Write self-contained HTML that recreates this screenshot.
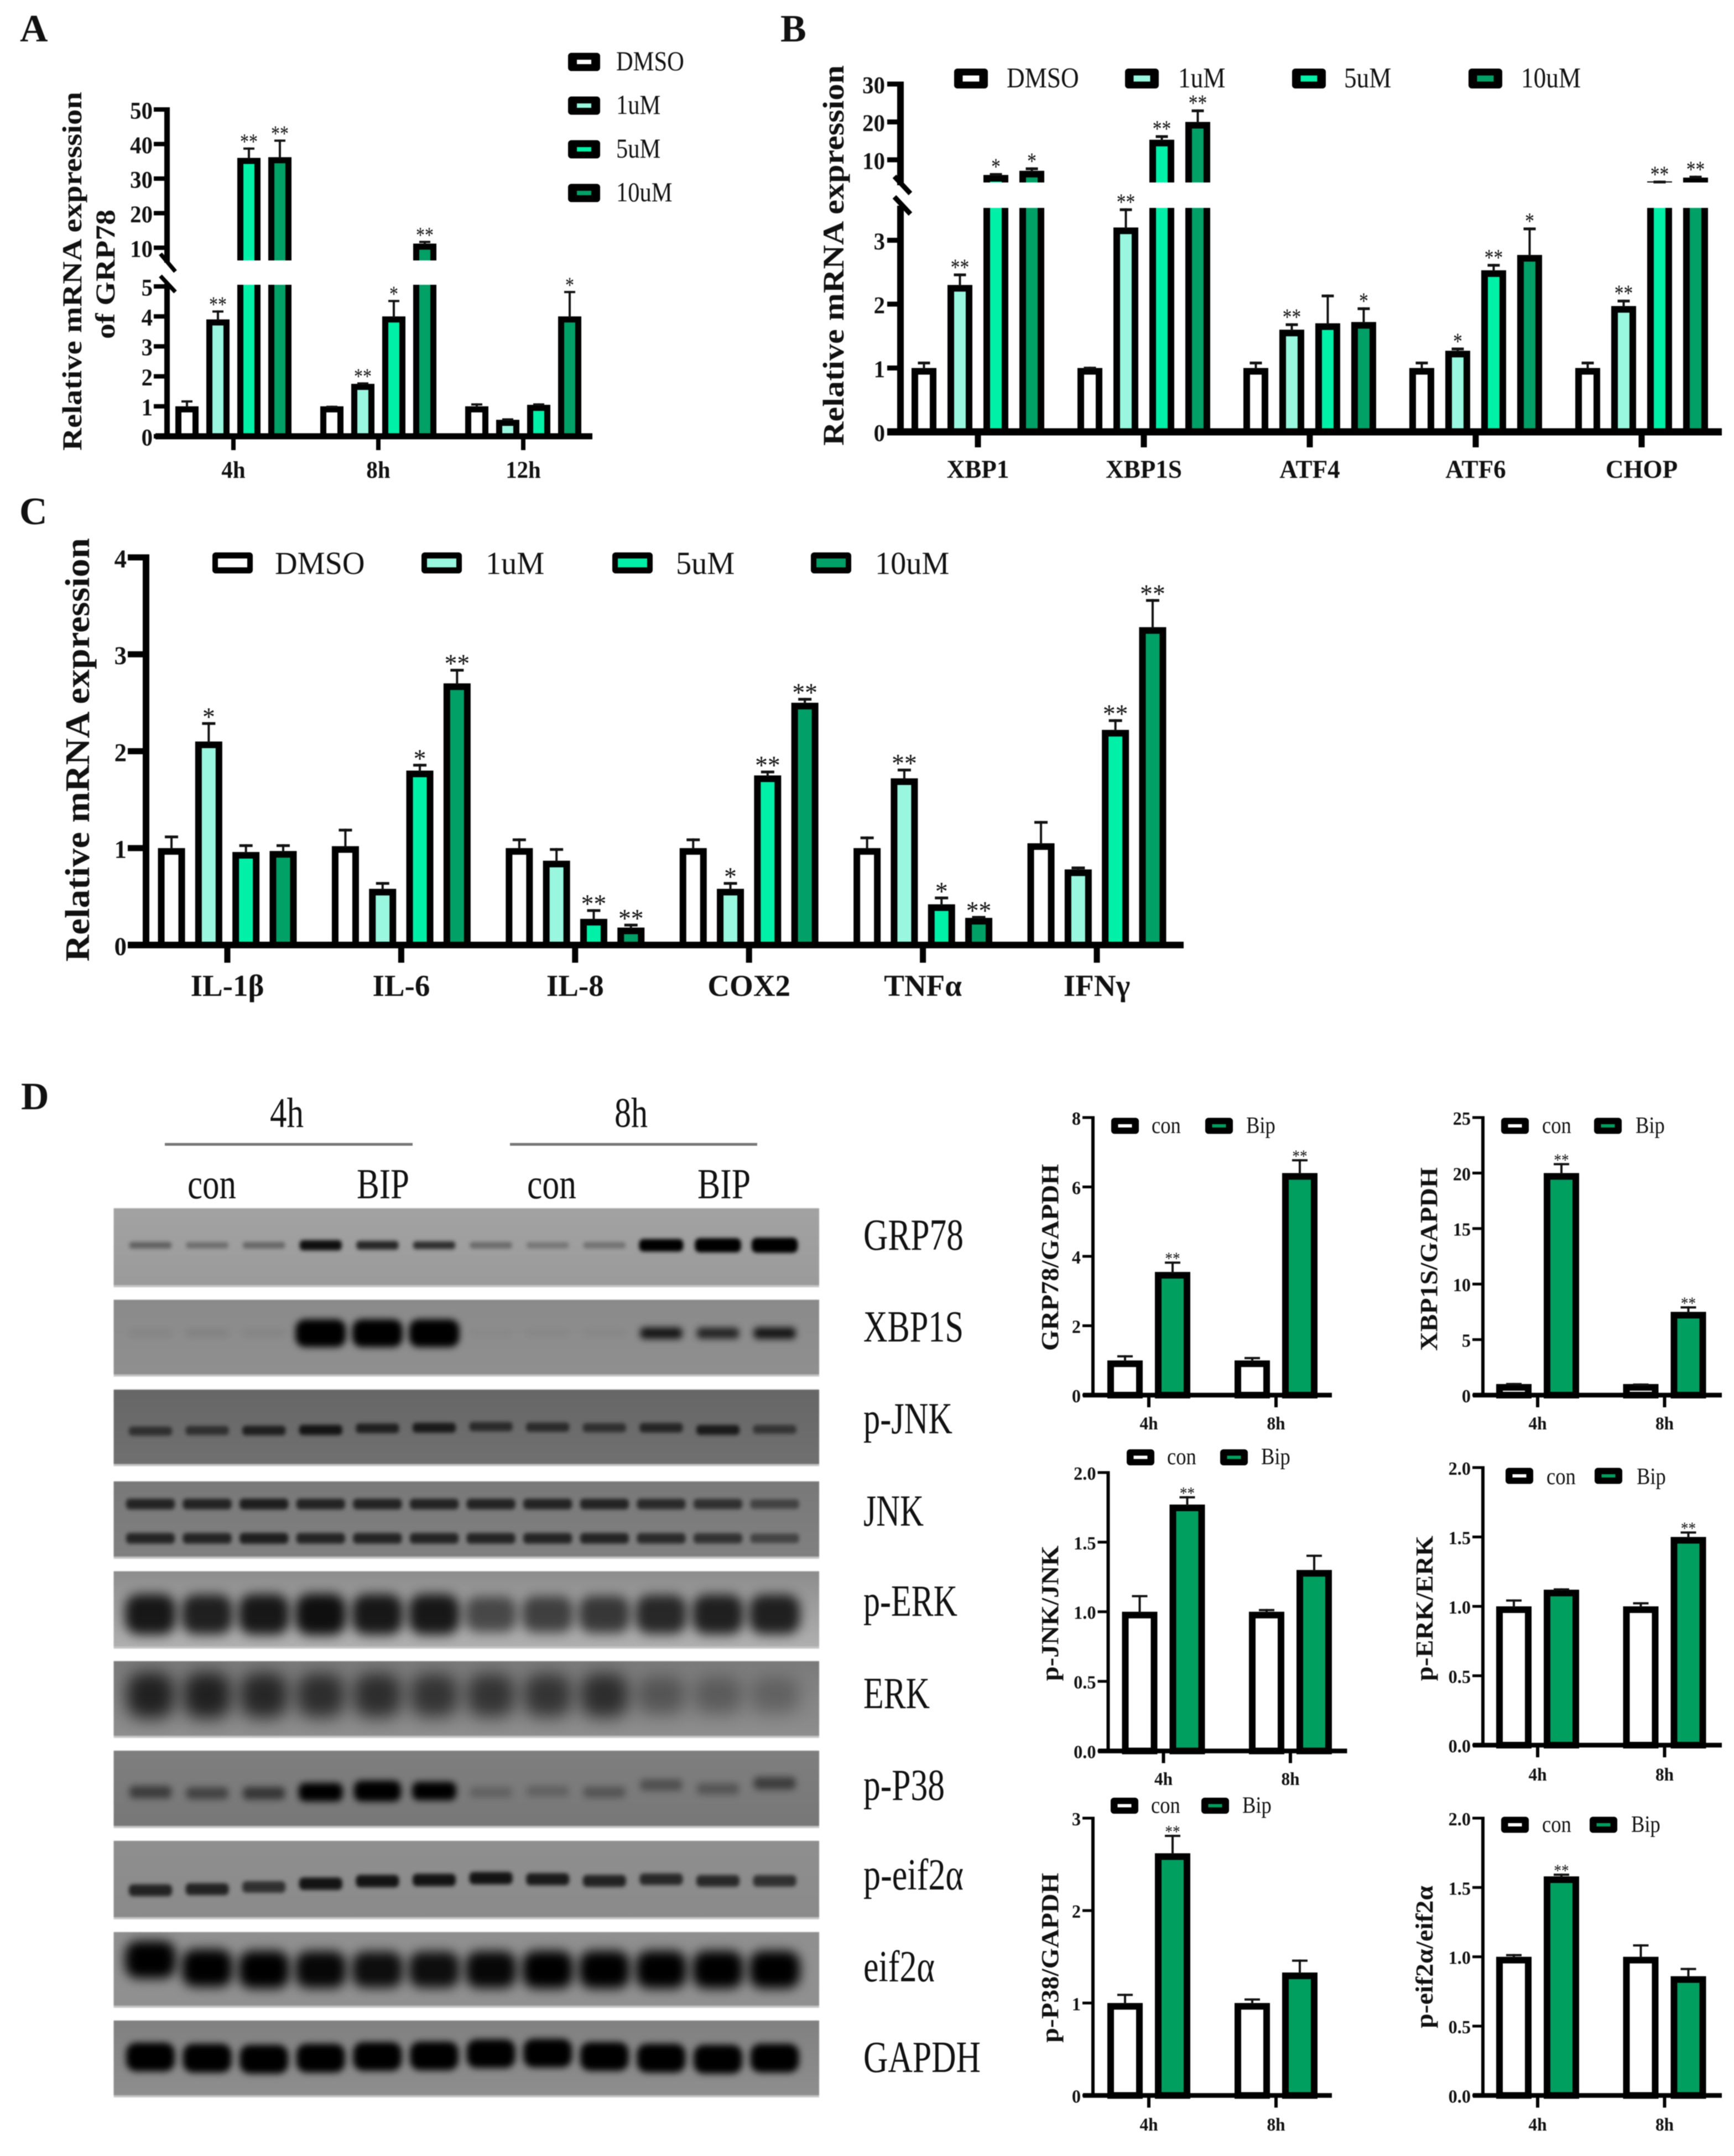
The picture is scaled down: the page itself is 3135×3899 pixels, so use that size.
<!DOCTYPE html>
<html lang="en">
<head>
<meta charset="utf-8">
<title>Relative mRNA expression and western blot figure</title>
<style>
html,body{margin:0;padding:0;background:#fff;}
svg{display:block;filter:blur(0.7px);}
text{font-family:"Liberation Serif","Times New Roman",serif;fill:#111;}
.bold{font-weight:bold;}
</style>
</head>
<body>
<svg id="figure" xmlns="http://www.w3.org/2000/svg" width="3135" height="3899" viewBox="0 0 3135 3899">
  <rect x="0" y="0" width="3135" height="3899" fill="#fff"/>
  <defs id="defs">
    <filter id="blur-xs" x="-50%" y="-150%" width="200%" height="400%"><feGaussianBlur stdDeviation="3.5"/></filter>
    <filter id="blur-s" x="-50%" y="-150%" width="200%" height="400%"><feGaussianBlur stdDeviation="6"/></filter>
    <filter id="blur-m" x="-50%" y="-100%" width="200%" height="300%"><feGaussianBlur stdDeviation="10"/></filter>
    <filter id="blur-l" x="-60%" y="-80%" width="220%" height="260%"><feGaussianBlur stdDeviation="15"/></filter>
  </defs>

  <text class="bold" x="36" y="75" font-size="70">A</text>
  <text class="bold" x="1411" y="75" font-size="70">B</text>
  <text class="bold" x="35" y="948" font-size="70">C</text>
  <text class="bold" x="38" y="2006" font-size="70">D</text>

  <g>
    <text x="488" y="2038" font-size="76" textLength="61" lengthAdjust="spacingAndGlyphs">4h</text>
    <text x="1111" y="2038" font-size="76" textLength="60" lengthAdjust="spacingAndGlyphs">8h</text>
    <rect x="298" y="2067" width="448" height="5" fill="#777"/>
    <rect x="922" y="2067" width="447" height="5" fill="#777"/>
    <text x="339" y="2167" font-size="77" textLength="88" lengthAdjust="spacingAndGlyphs">con</text>
    <text x="645" y="2167" font-size="77" textLength="95" lengthAdjust="spacingAndGlyphs">BIP</text>
    <text x="953" y="2167" font-size="77" textLength="89" lengthAdjust="spacingAndGlyphs">con</text>
    <text x="1261" y="2167" font-size="77" textLength="96" lengthAdjust="spacingAndGlyphs">BIP</text>
  </g>

  <g>
    <text x="1561" y="2260" font-size="80" textLength="181" lengthAdjust="spacingAndGlyphs">GRP78</text>
    <text x="1561" y="2426" font-size="80" textLength="181" lengthAdjust="spacingAndGlyphs">XBP1S</text>
    <text x="1561" y="2592" font-size="80" textLength="161" lengthAdjust="spacingAndGlyphs">p-JNK</text>
    <text x="1561" y="2759" font-size="80" textLength="109" lengthAdjust="spacingAndGlyphs">JNK</text>
    <text x="1561" y="2922" font-size="80" textLength="170" lengthAdjust="spacingAndGlyphs">p-ERK</text>
    <text x="1561" y="3089" font-size="80" textLength="120" lengthAdjust="spacingAndGlyphs">ERK</text>
    <text x="1561" y="3255" font-size="80" textLength="147" lengthAdjust="spacingAndGlyphs">p-P38</text>
    <text x="1561" y="3417" font-size="80" textLength="181" lengthAdjust="spacingAndGlyphs">p-eif2α</text>
    <text x="1561" y="3583" font-size="80" textLength="129" lengthAdjust="spacingAndGlyphs">eif2α</text>
    <text x="1561" y="3747" font-size="80" textLength="212" lengthAdjust="spacingAndGlyphs">GAPDH</text>
  </g>

  <g id="blots"></g>
  <g id="charts"></g>
</svg>

<script>
/* ---------- shared labels ---------- */
const doseLabels = ['DMSO', '1uM', '5uM', '10uM'];
const doseColors = ['#ffffff', '#9af7df', '#00f0a8', '#00a066'];
const pairLabels = ['con', 'Bip'];
const pairColors = ['#ffffff', '#009f5f'];
const pairCategories = ['4h', '8h'];

/* ---------- panel A ---------- */
const aCategories = ['4h', '8h', '12h'];
const aYTicks = ['0', '1', '2', '3', '4', '5', '10', '20', '30', '40', '50'];
const aDmso = [1, 1, 1];
const a1uM = [3.9, 1.75, 0.55];
const a5uM = [36, 4, 1.05];
const a10uM = [36.2, 11.2, 4];
const aErrDmso = [1.2, 1.02, 1.1];
const aErr1uM = [4.2, 1.8, 0.6];
const aErr5uM = [39, 4.55, 1.1];
const aErr10uM = [41.3, 12, 4.85];
const aStars1uM = ['**', '**', ''];
const aStars5uM = ['**', '*', ''];
const aStars10uM = ['**', '**', '*'];

/* ---------- panel B ---------- */
const bCategories = ['XBP1', 'XBP1S', 'ATF4', 'ATF6', 'CHOP'];
const bYTicks = ['0', '1', '2', '3', '10', '20', '30'];
const bDmso = [1, 1, 1, 1, 1];
const b1uM = [2.3, 3.2, 1.6, 1.27, 1.97];
const b5uM = [6, 15.3, 1.7, 2.53, 4.3];
const b10uM = [7.1, 20, 1.72, 2.77, 5.3];
const bErrDmso = [1.1, 1.02, 1.1, 1.1, 1.1];
const bErr1uM = [2.48, 3.5, 1.7, 1.32, 2.07];
const bErr5uM = [6.5, 16.5, 2.15, 2.63, 4.5];
const bErr10uM = [8, 23.3, 1.95, 3.2, 5.8];
const bStars1uM = ['**', '**', '**', '*', '**'];
const bStars5uM = ['*', '**', '', '**', '**'];
const bStars10uM = ['*', '**', '*', '*', '**'];

/* ---------- panel C ---------- */
const cCategories = ['IL-1β', 'IL-6', 'IL-8', 'COX2', 'TNFα', 'IFNγ'];
const cYTicks = ['0', '1', '2', '3', '4'];
const cDmso = [1, 1.02, 1, 1, 1, 1.05];
const c1uM = [2.1, 0.58, 0.87, 0.58, 1.72, 0.78];
const c5uM = [0.96, 1.8, 0.27, 1.75, 0.42, 2.22];
const c10uM = [0.97, 2.7, 0.18, 2.5, 0.28, 3.28];
const cErrDmso = [1.13, 1.2, 1.1, 1.1, 1.12, 1.28];
const cErr1uM = [2.3, 0.65, 1, 0.65, 1.82, 0.81];
const cErr5uM = [1.04, 1.87, 0.37, 1.8, 0.5, 2.33];
const cErr10uM = [1.04, 2.85, 0.22, 2.55, 0.3, 3.57];
const cStars1uM = ['*', '', '', '*', '**', ''];
const cStars5uM = ['', '*', '**', '**', '*', '**'];
const cStars10uM = ['', '**', '**', '**', '**', '**'];

/* ---------- panel D quantification ---------- */
const d1YTicks = ['0', '2', '4', '6', '8'];
const d1Con = [1, 1];
const d1Bip = [3.55, 6.4];
const d1ConErr = [1.15, 1.1];
const d1BipErr = [3.85, 6.8];
const d1Stars = ['**', '**'];

const d2YTicks = ['0', '5', '10', '15', '20', '25'];
const d2Con = [1, 1];
const d2Bip = [20, 7.5];
const d2ConErr = [1.1, 1.05];
const d2BipErr = [20.9, 8];
const d2Stars = ['**', '**'];

const d3YTicks = ['0.0', '0.5', '1.0', '1.5', '2.0'];
const d3Con = [1, 1];
const d3Bip = [1.77, 1.3];
const d3ConErr = [1.12, 1.02];
const d3BipErr = [1.83, 1.41];
const d3Stars = ['**', ''];

const d4YTicks = ['0.0', '0.5', '1.0', '1.5', '2.0'];
const d4Con = [1, 1];
const d4Bip = [1.12, 1.5];
const d4ConErr = [1.05, 1.03];
const d4BipErr = [1.13, 1.54];
const d4Stars = ['', '**'];

const d5YTicks = ['0', '1', '2', '3'];
const d5Con = [1, 1];
const d5Bip = [2.62, 1.33];
const d5ConErr = [1.1, 1.05];
const d5BipErr = [2.82, 1.47];
const d5Stars = ['**', ''];

const d6YTicks = ['0.0', '0.5', '1.0', '1.5', '2.0'];
const d6Con = [1, 1];
const d6Bip = [1.58, 0.86];
const d6ConErr = [1.02, 1.09];
const d6BipErr = [1.6, 0.92];
const d6Stars = ['**', ''];

/* ---------- blot band intensities (0..1), one per lane ---------- */
const blotGrp78 = [0.38, 0.3, 0.35, 0.9, 0.75, 0.7, 0.32, 0.25, 0.28, 1, 1, 1];
const blotXbp1s = [0.05, 0.07, 0.05, 1, 1, 1, 0.02, 0.03, 0.03, 0.85, 0.75, 0.85];
const blotPJnk = [0.55, 0.55, 0.7, 0.8, 0.7, 0.75, 0.6, 0.6, 0.55, 0.65, 0.75, 0.5];
const blotJnk = [0.7, 0.7, 0.75, 0.7, 0.7, 0.7, 0.7, 0.7, 0.7, 0.65, 0.6, 0.45];
const blotPErk = [0.85, 0.8, 0.85, 0.9, 0.85, 0.85, 0.55, 0.6, 0.65, 0.75, 0.8, 0.8];
const blotErk = [0.75, 0.75, 0.7, 0.65, 0.65, 0.6, 0.6, 0.6, 0.65, 0.35, 0.3, 0.25];
const blotPP38 = [0.5, 0.45, 0.55, 1, 1, 1, 0.2, 0.2, 0.3, 0.35, 0.3, 0.5];
const blotPEif = [0.75, 0.75, 0.65, 0.85, 0.85, 0.85, 0.85, 0.8, 0.75, 0.7, 0.7, 0.65];
const blotEif = [1, 1, 1, 0.95, 0.9, 0.9, 0.95, 1, 1, 1, 1, 1];
const blotGapdh = [1, 1, 1, 1, 1, 1, 1, 1, 1, 1, 1, 1];

/* ---------- helpers ---------- */
const NS = 'http://www.w3.org/2000/svg';
const chartsRoot = document.getElementById('charts');
const blotsRoot = document.getElementById('blots');
const defsRoot = document.getElementById('defs');

function mk(tag, attrs, parent) {
  const el = document.createElementNS(NS, tag);
  for (const k in attrs) el.setAttribute(k, attrs[k]);
  if (parent) parent.appendChild(el);
  return el;
}
function named(el, name) {
  
  
  return el;
}
function txt(parent, str, x, y, size, o) {
  o = o || {};
  const el = mk('text', {'font-size': size}, parent);
  let t = 'translate(' + x + ' ' + y + ')';
  if (o.rot) t += ' rotate(' + o.rot + ')';
  if (o.sx) t += ' scale(' + o.sx + ' 1)';
  el.setAttribute('transform', t);
  if (o.anchor) el.setAttribute('text-anchor', o.anchor);
  if (o.bold) el.setAttribute('class', 'bold');
  if (o.len) {
    el.setAttribute('textLength', o.len);
    el.setAttribute('lengthAdjust', 'spacingAndGlyphs');
  }
  el.textContent = str;
  return el;
}
function linearScale(v0, p0, v1, p1) {
  return function (v) { return p0 + (v - v0) * (p1 - p0) / (v1 - v0); };
}
function brokenScale(split, lower, upper) {
  return function (v) { return v <= split ? lower(v) : upper(v); };
}

/* ---------- bar chart ---------- */
function drawBarChart(c) {
  const g = named(mk('g', {}, chartsRoot), 'chart-' + c.id);
  const groupX = function (i) { return c.x0 + i * c.xStep; };
  const barX = function (i, j) { return groupX(i) + (j - (c.series.length - 1) / 2) * c.barStep; };
  const y = c.y;

  /* bars */
  c.series.forEach(function (vals, j) {
    vals.forEach(function (v, i) {
      const top = y(v) + c.sw / 2;
      const bar = mk('rect', {
        x: barX(i, j) - c.barW / 2 + c.sw / 2, y: top,
        width: c.barW - c.sw, height: Math.max(0, c.base - top),
        fill: c.colors[j], stroke: '#000', 'stroke-width': c.sw
      }, g);
      named(bar, 'bar-' + c.id + '-' + c.seriesNames[j] + '-' + c.categories[i]);
    });
  });

  /* axis break gap */
  if (c.brk) {
    const gap = mk('rect', {
      x: c.axisX + 14, y: c.brk.gapTop,
      width: c.baseRight - c.axisX - 14, height: c.brk.gapBottom - c.brk.gapTop, fill: '#fff'
    }, g);
    named(gap, 'axis-break-gap-' + c.id);
  }

  /* error bars and significance stars */
  c.series.forEach(function (vals, j) {
    vals.forEach(function (v, i) {
      const e = c.errors[j][i];
      const yTop = y(e);
      const cx = barX(i, j);
      if (e > v) {
        const stem = mk('rect', {x: cx - c.errStem / 2, y: yTop, width: c.errStem, height: y(v) - yTop + 2, fill: '#111'}, g);
        named(stem, 'error-stem-' + c.id);
      }
      const cap = mk('rect', {x: cx - c.errCap / 2, y: yTop, width: c.errCap, height: c.errThick, fill: '#111'}, g);
      named(cap, 'error-cap-' + c.id);
      const s = c.stars[j] ? c.stars[j][i] : '';
      if (s) {
        const st = txt(g, s, cx, yTop - c.starGap + 0.47 * c.starSize, c.starSize, {anchor: 'middle', sx: c.starSx});
        named(st, 'significance-' + c.id);
      }
    });
  });

  /* y axis */
  const axisTop = y(parseFloat(c.yTicks[c.yTicks.length - 1])) - c.tickW / 2;
  if (c.brk) {
    const a1 = mk('rect', {x: c.axisX - c.axisW / 2, y: axisTop, width: c.axisW, height: c.brk.axisEnd - axisTop, fill: '#000'}, g);
    named(a1, 'y-axis-upper-' + c.id);
    const a2 = mk('rect', {x: c.axisX - c.axisW / 2, y: c.brk.axisStart, width: c.axisW, height: c.base - c.brk.axisStart, fill: '#000'}, g);
    named(a2, 'y-axis-lower-' + c.id);
    c.brk.slashes.forEach(function (s) {
      const sl = mk('line', {x1: s[0], y1: s[1], x2: s[2], y2: s[3], stroke: '#000', 'stroke-width': c.axisW * 0.75}, g);
      named(sl, 'axis-break-mark-' + c.id);
    });
  } else {
    const a = mk('rect', {x: c.axisX - c.axisW / 2, y: axisTop, width: c.axisW, height: c.base - axisTop, fill: '#000'}, g);
    named(a, 'y-axis-' + c.id);
  }
  c.yTicks.forEach(function (t) {
    const py = y(parseFloat(t));
    const tk = mk('rect', {x: c.axisX - c.tickLen, y: py - c.tickW / 2, width: c.tickLen, height: c.tickW, fill: '#000'}, g);
    named(tk, 'y-tick-' + c.id);
    const lb = txt(g, t, c.yLabelRight, py + 0.38 * c.yLabelSize, c.yLabelSize, {anchor: 'end', bold: true, sx: c.yLabelSx});
    named(lb, 'y-tick-label-' + c.id);
  });

  /* x axis */
  const bl = mk('rect', {x: c.baseLeft, y: c.base - c.baseW / 2, width: c.baseRight - c.baseLeft, height: c.baseW, fill: '#000'}, g);
  named(bl, 'x-axis-' + c.id);
  c.categories.forEach(function (cat, i) {
    const tk = mk('rect', {x: groupX(i) - c.xTickW / 2, y: c.base, width: c.xTickW, height: c.xTickLen, fill: '#000'}, g);
    named(tk, 'x-tick-' + c.id);
    const lb = txt(g, cat, groupX(i), c.xLabelY, c.xLabelSize, {anchor: 'middle', bold: true, sx: c.xLabelSx});
    named(lb, 'x-tick-label-' + c.id);
  });

  /* y titles */
  c.titles.forEach(function (t) {
    const el = txt(g, t.text, t.x, (t.y1 + t.y2) / 2, t.size, {anchor: 'middle', bold: true, rot: -90, len: t.y2 - t.y1});
    named(el, 'y-axis-title-' + c.id);
  });

  /* legend */
  const L = c.legend;
  L.items.forEach(function (it, k) {
    const lg = named(mk('g', {}, g), 'legend-entry-' + c.id + '-' + c.seriesNames[k]);
    const outer = mk('rect', {x: it[0], y: it[1] - L.h / 2, width: L.w, height: L.h, rx: 6, fill: '#000'}, lg);
    named(outer, 'legend-swatch-frame');
    const inner = mk('rect', {x: it[0] + (L.w - L.iw) / 2, y: it[1] - L.ih / 2, width: L.iw, height: L.ih, fill: c.colors[k]}, lg);
    named(inner, 'legend-swatch-fill');
    const tx = txt(lg, c.seriesNames[k], it[2], it[3], L.size, {sx: L.sx});
    named(tx, 'legend-label');
  });
}

/* panel A */
drawBarChart({
  id: 'a', categories: aCategories, seriesNames: doseLabels, colors: doseColors,
  series: [aDmso, a1uM, a5uM, a10uM],
  errors: [aErrDmso, aErr1uM, aErr5uM, aErr10uM],
  stars: [null, aStars1uM, aStars5uM, aStars10uM],
  yTicks: aYTicks,
  y: brokenScale(5.5, linearScale(0, 789, 5, 518), linearScale(10, 448, 50, 198)),
  brk: {gapTop: 471, gapBottom: 515, axisEnd: 475, axisStart: 513,
    slashes: [[290, 459, 317, 491], [290, 499, 317, 528]]},
  x0: 422, xStep: 262, barStep: 56, barW: 42, sw: 11,
  axisX: 302, axisW: 10, tickLen: 24, tickW: 8,
  base: 789, baseLeft: 281, baseRight: 1071, baseW: 11, xTickW: 8, xTickLen: 25,
  errStem: 4, errCap: 20, errThick: 4, starSize: 40, starSx: 0.8, starGap: 16,
  yLabelRight: 276, yLabelSize: 43, yLabelSx: 0.95,
  xLabelY: 864, xLabelSize: 43, xLabelSx: 0.95,
  titles: [
    {text: 'Relative mRNA expression', x: 147, y1: 166, y2: 815, size: 50},
    {text: 'of GRP78', x: 207, y1: 379, y2: 613, size: 50}
  ],
  legend: {w: 58, h: 33, iw: 26, ih: 8, size: 50, sx: 0.85,
    items: [[1027, 112, 1114, 127], [1027, 191, 1114, 206], [1027, 270, 1114, 285], [1027, 349, 1114, 364]]}
});

/* panel B */
drawBarChart({
  id: 'b', categories: bCategories, seriesNames: doseLabels, colors: doseColors,
  series: [bDmso, b1uM, b5uM, b10uM],
  errors: [bErrDmso, bErr1uM, bErr5uM, bErr10uM],
  stars: [null, bStars1uM, bStars5uM, bStars10uM],
  yTicks: bYTicks,
  y: brokenScale(3.6, linearScale(0, 781, 3, 434.5), linearScale(10, 289, 30, 152)),
  brk: {gapTop: 330, gapBottom: 376, axisEnd: 335, axisStart: 372,
    slashes: [[1617, 319, 1646, 350], [1617, 356, 1646, 387]]},
  x0: 1768, xStep: 300, barStep: 65, barW: 45, sw: 12,
  axisX: 1628, axisW: 12, tickLen: 24, tickW: 9,
  base: 781, baseLeft: 1604, baseRight: 3113, baseW: 13, xTickW: 11, xTickLen: 28,
  errStem: 4, errCap: 22, errThick: 5, starSize: 42, starSx: 0.8, starGap: 17,
  yLabelRight: 1600, yLabelSize: 43, yLabelSx: 0.95,
  xLabelY: 864, xLabelSize: 47, xLabelSx: 0.96,
  titles: [{text: 'Relative mRNA expression', x: 1525, y1: 118, y2: 806, size: 54}],
  legend: {w: 61, h: 36, iw: 30, ih: 11, size: 52, sx: 0.87,
    items: [[1725, 142, 1820, 158], [2034, 142, 2130, 158], [2336, 142, 2430, 158], [2655, 142, 2750, 158]]}
});

/* panel C */
drawBarChart({
  id: 'c', categories: cCategories, seriesNames: doseLabels, colors: doseColors,
  series: [cDmso, c1uM, c5uM, c10uM],
  errors: [cErrDmso, cErr1uM, cErr5uM, cErr10uM],
  stars: [null, cStars1uM, cStars5uM, cStars10uM],
  yTicks: cYTicks,
  y: linearScale(0, 1709, 4, 1008),
  x0: 411, xStep: 314.4, barStep: 67.3, barW: 49, sw: 12,
  axisX: 264, axisW: 12, tickLen: 33, tickW: 11,
  base: 1709, baseLeft: 231, baseRight: 2140, baseW: 12, xTickW: 11, xTickLen: 32,
  errStem: 4, errCap: 24, errThick: 5, starSize: 48, starSx: 0.95, starGap: 16,
  yLabelRight: 229, yLabelSize: 47, yLabelSx: 0.95,
  xLabelY: 1801, xLabelSize: 55, xLabelSx: 1,
  titles: [{text: 'Relative mRNA expression', x: 161, y1: 973, y2: 1739, size: 62}],
  legend: {w: 73, h: 38, iw: 53, ih: 16, size: 58, sx: 0.97,
    items: [[384, 1018, 497, 1038], [762, 1018, 878, 1038], [1107, 1018, 1222, 1038], [1466, 1018, 1582, 1038]]}
});

/* shared layout for the six pair charts */
function drawPairChart(o) {
  drawBarChart({
    id: o.id, categories: pairCategories, seriesNames: pairLabels, colors: pairColors,
    series: o.series, errors: o.errors, stars: [null, o.stars], yTicks: o.yTicks, y: o.y,
    x0: o.x0, xStep: o.xStep, barStep: 86, barW: 64, sw: 12,
    axisX: o.axisX, axisW: 6, tickLen: 19, tickW: 5,
    base: o.base, baseLeft: o.axisX - 18, baseRight: o.axisX + 432, baseW: 8.5, xTickW: 6, xTickLen: 22,
    errStem: 4, errCap: 28, errThick: 4, starSize: 32, starSx: 0.85, starGap: 10,
    yLabelRight: o.axisX - 22, yLabelSize: 34, yLabelSx: 0.95,
    xLabelY: o.xLabelY, xLabelSize: 33, xLabelSx: 0.95,
    titles: [o.title],
    legend: {w: 50, h: 29, iw: 25, ih: 6, size: 42, sx: 0.87, items: o.legend}
  });
}

drawPairChart({
  id: 'grp78', series: [d1Con, d1Bip], errors: [d1ConErr, d1BipErr], stars: d1Stars, yTicks: d1YTicks,
  y: linearScale(0, 2523, 8, 2021), x0: 2077, xStep: 230, axisX: 1976, base: 2523, xLabelY: 2585,
  title: {text: 'GRP78/GAPDH', x: 1913, y1: 2105, y2: 2443, size: 44},
  legend: [[2009, 2036, 2082, 2049], [2179, 2036, 2253, 2049]]
});
drawPairChart({
  id: 'xbp1s', series: [d2Con, d2Bip], errors: [d2ConErr, d2BipErr], stars: d2Stars, yTicks: d2YTicks,
  y: linearScale(0, 2523, 25, 2021), x0: 2780, xStep: 229.5, axisX: 2681, base: 2523, xLabelY: 2585,
  title: {text: 'XBP1S/GAPDH', x: 2598, y1: 2111, y2: 2443, size: 44},
  legend: [[2714, 2036, 2788, 2049], [2882, 2036, 2957, 2049]]
});
drawPairChart({
  id: 'p-jnk', series: [d3Con, d3Bip], errors: [d3ConErr, d3BipErr], stars: d3Stars, yTicks: d3YTicks,
  y: linearScale(0, 3166.5, 2, 2663), x0: 2103.5, xStep: 229.5, axisX: 2003.5, base: 3166.5, xLabelY: 3228,
  title: {text: 'p-JNK/JNK', x: 1913, y1: 2795, y2: 3040, size: 44},
  legend: [[2037, 2635.5, 2110, 2648], [2206, 2635.5, 2280, 2648]]
});
drawPairChart({
  id: 'p-erk', series: [d4Con, d4Bip], errors: [d4ConErr, d4BipErr], stars: d4Stars, yTicks: d4YTicks,
  y: linearScale(0, 3156, 2, 2654), x0: 2780, xStep: 229.5, axisX: 2681, base: 3156, xLabelY: 3220,
  title: {text: 'p-ERK/ERK', x: 2590, y1: 2777, y2: 3040, size: 44},
  legend: [[2722, 2669, 2796, 2684], [2883, 2669, 2959, 2684]]
});
drawPairChart({
  id: 'p-p38', series: [d5Con, d5Bip], errors: [d5ConErr, d5BipErr], stars: d5Stars, yTicks: d5YTicks,
  y: linearScale(0, 3789.5, 3, 3288), x0: 2077, xStep: 230, axisX: 1976, base: 3789.5, xLabelY: 3853,
  title: {text: 'p-P38/GAPDH', x: 1913, y1: 3387, y2: 3694, size: 44},
  legend: [[2008, 3265.5, 2081, 3278.5], [2172, 3265.5, 2246, 3278.5]]
});
drawPairChart({
  id: 'p-eif2a', series: [d6Con, d6Bip], errors: [d6ConErr, d6BipErr], stars: d6Stars, yTicks: d6YTicks,
  y: linearScale(0, 3789.5, 2, 3288), x0: 2780, xStep: 229.5, axisX: 2681, base: 3789.5, xLabelY: 3853,
  title: {text: 'p-eif2α/eif2α', x: 2590, y1: 3410, y2: 3668, size: 44},
  legend: [[2714, 3300, 2788, 3313], [2874, 3300, 2949, 3313]]
});

/* ---------- western blots ---------- */
let blotIdx = 0;
function drawBlot(o) {
  const id = 'blot-grad-' + (blotIdx++);
  const grad = mk('linearGradient', {id: id, x1: 0, y1: 0, x2: 0, y2: 1}, defsRoot);
  mk('stop', {offset: '0', 'stop-color': o.bgTop}, grad);
  mk('stop', {offset: '1', 'stop-color': o.bgBottom}, grad);
  const w = 1275.5;
  const h = o.bottom - o.top;
  const row = mk('svg', {x: 205.5, y: o.top, width: w, height: h}, blotsRoot);
  named(row, 'blot-' + o.name);
  const bg = mk('rect', {x: 0, y: 0, width: w, height: h, fill: 'url(#' + id + ')'}, row);
  named(bg, 'blot-background');
  o.ys.forEach(function (yRel) {
    o.values.forEach(function (v, i) {
      const sw = o.widthScale ? o.widthScale[i] : 1;
      const sh = o.heightScale ? o.heightScale[i] : 1;
      const dy = o.shifts ? o.shifts[i] : 0;
      const bw = o.bandW * sw;
      const bh = o.bandH * sh * (0.6 + 0.4 * v);
      const band = mk('rect', {
        x: 272 + i * 102.6 - 205.5 - bw / 2, y: yRel + dy - bh / 2,
        width: bw, height: bh, rx: bh * 0.35, ry: bh * 0.35,
        fill: '#000', opacity: v, filter: 'url(#' + o.blur + ')'
      }, row);
      named(band, 'band-' + o.name + '-lane-' + (i + 1));
    });
  });
  const edge = mk('rect', {x: 0, y: h - 4, width: w, height: 4, fill: '#c4c4c4'}, row);
  named(edge, 'blot-edge');
}

drawBlot({name: 'grp78', top: 2185, bottom: 2328, bgTop: '#a2a2a2', bgBottom: '#9a9a9a', ys: [67], bandW: 76, bandH: 16, blur: 'blur-xs', values: blotGrp78,
  widthScale: [1, 1, 1, 1, 1, 1, 1, 1, 1, 1.05, 1.1, 1.1],
  heightScale: [1, 1, 1, 1.2, 1.1, 1, 1, 1, 1, 1.4, 1.6, 1.7]});
drawBlot({name: 'xbp1s', top: 2350.5, bottom: 2489.5, bgTop: '#8a8a8a', bgBottom: '#8f8f8f', ys: [60.5], bandW: 76, bandH: 22, blur: 'blur-s', values: blotXbp1s,
  widthScale: [1, 1, 1, 1.2, 1.2, 1.2, 1, 1, 1, 1, 1, 1],
  heightScale: [1, 1, 1, 2.3, 2.3, 2.3, 1, 1, 1, 1, 1, 1]});
drawBlot({name: 'p-jnk', top: 2513, bottom: 2651.5, bgTop: '#666666', bgBottom: '#707070', ys: [70], bandW: 78, bandH: 20, blur: 'blur-xs', values: blotPJnk,
  shifts: [5, 4, 4, 3, 0, -1, -3, -2, -1, -1, 3, 2]});
drawBlot({name: 'jnk', top: 2679, bottom: 2819, bgTop: '#787878', bgBottom: '#808080', ys: [41, 103], bandW: 88, bandH: 22, blur: 'blur-xs', values: blotJnk});
drawBlot({name: 'p-erk', top: 2841.5, bottom: 2981.5, bgTop: '#8c8c8c', bgBottom: '#b0b0b0', ys: [78], bandW: 92, bandH: 78, blur: 'blur-m', values: blotPErk});
drawBlot({name: 'erk', top: 3004, bottom: 3143, bgTop: '#7a7a7a', bgBottom: '#8e8e8e', ys: [62], bandW: 86, bandH: 92, blur: 'blur-l', values: blotErk});
drawBlot({name: 'p-p38', top: 3166, bottom: 3306, bgTop: '#7e7e7e', bgBottom: '#777777', ys: [75], bandW: 76, bandH: 28, blur: 'blur-s', values: blotPP38,
  widthScale: [1, 1, 1, 1.05, 1.12, 1.05, 1, 1, 1, 1, 1, 1],
  heightScale: [1, 1, 1, 1.2, 1.35, 1.2, 1, 1, 1, 1, 1, 1],
  shifts: [0, 2, 2, 0, -2, -2, 0, -2, 0, -13, -6, -16]});
drawBlot({name: 'p-eif2a', top: 3329, bottom: 3471, bgTop: '#8e8e8e', bgBottom: '#8a8a8a', ys: [80.5], bandW: 78, bandH: 24, blur: 'blur-xs', values: blotPEif,
  shifts: [9, 7, 3, -3, -7.6, -9.6, -13, -11, -8, -11, -8, -8]});
drawBlot({name: 'eif2a', top: 3494, bottom: 3631, bgTop: '#8f8f8f', bgBottom: '#909090', ys: [68], bandW: 92, bandH: 68, blur: 'blur-m', values: blotEif,
  shifts: [-18, -3, 0, 0, 0, 0, 0, 0, 0, 0, 0, 0]});
drawBlot({name: 'gapdh', top: 3654, bottom: 3793, bgTop: '#808080', bgBottom: '#8e8e8e', ys: [68], bandW: 88, bandH: 52, blur: 'blur-s', values: blotGapdh,
  shifts: [-2, 0, 2, 0, -3, -4, -8, -9, -3, 0, 2, 0]});
</script>
</body>
</html>
